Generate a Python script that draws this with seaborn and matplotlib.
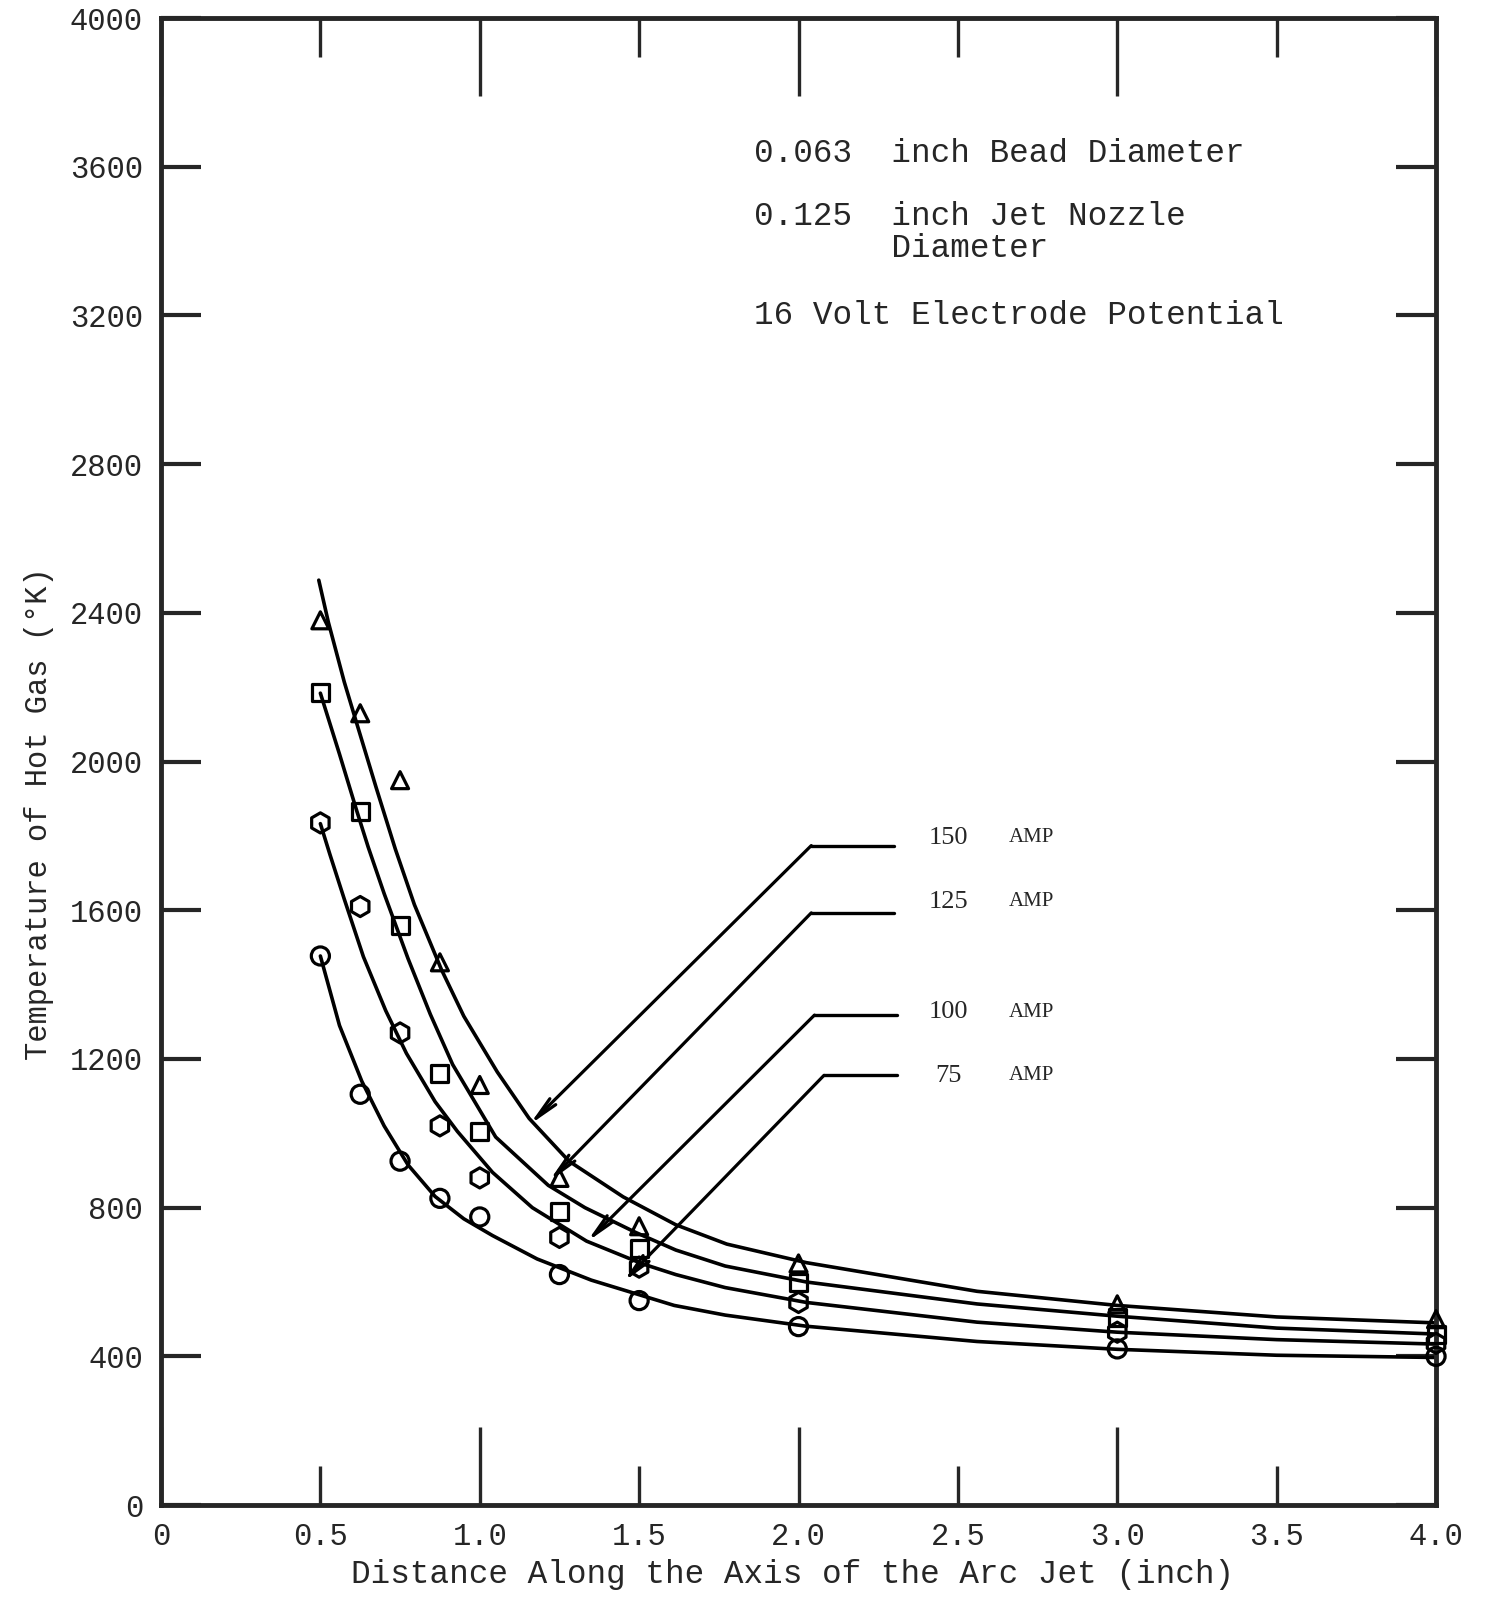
import numpy as np
import pandas as pd
import seaborn as sns
import matplotlib.pyplot as plt
from matplotlib.ticker import MultipleLocator, FuncFormatter

# measured points (distance in inch, temperature in deg K)
dist = [0.5, 0.625, 0.75, 0.875, 1.0, 1.25, 1.5, 2.0, 3.0, 4.0]
temp_150 = [2380, 2130, 1950, 1460, 1130, 880, 750, 650, 540, 500]
temp_125 = [2185, 1865, 1560, 1160, 1005, 790, 690, 600, 505, 460]
temp_100 = [1835, 1610, 1270, 1020, 880, 720, 640, 545, 465, 435]
temp_75 = [1477, 1105, 925, 825, 775, 620, 550, 480, 420, 400]

# hand drawn fit curves
fit_x_150 = [0.495, 0.525, 0.575, 0.615, 0.675, 0.735, 0.795, 0.88, 0.95, 1.055, 1.155,
             1.28, 1.45, 1.615, 1.775, 2.025, 2.56, 3.0, 3.5, 4.0]
fit_y_150 = [2488, 2375, 2214, 2100, 1930, 1765, 1615, 1440, 1315, 1165, 1040,
             925, 829, 754, 702, 652, 575, 537, 506, 490]
fit_x_125 = [0.50, 0.56, 0.615, 0.65, 0.70, 0.775, 0.845, 0.915, 1.05, 1.215, 1.33,
             1.49, 1.615, 1.77, 2.025, 2.56, 3.0, 3.5, 4.0]
fit_y_125 = [2184, 2020, 1865, 1770, 1645, 1470, 1320, 1185, 990, 860, 800,
             733, 686, 643, 600, 541, 508, 476, 460]
fit_x_100 = [0.50, 0.53, 0.575, 0.635, 0.705, 0.77, 0.86, 0.93, 1.04, 1.165, 1.335,
             1.51, 1.615, 1.77, 2.025, 2.56, 3.0, 3.5, 4.0]
fit_y_100 = [1833, 1750, 1630, 1475, 1330, 1215, 1085, 1005, 895, 800, 710,
             649, 620, 585, 545, 492, 465, 445, 433]
fit_x_75 = [0.50, 0.56, 0.63, 0.70, 0.775, 0.86, 0.95, 1.04, 1.18, 1.35, 1.61,
            1.77, 2.025, 2.56, 3.0, 3.5, 4.0]
fit_y_75 = [1477, 1290, 1140, 1020, 915, 830, 770, 725, 662, 605, 537,
            511, 481, 440, 419, 403, 397]

amp_labels = ['150', '125', '100', '75']
markers = ['^', 's', 'h', 'o']
marker_sizes = [150, 150, 210, 170]
arrow_tip_x = [1.156, 1.217, 1.336, 1.45]
arrow_tip_y = [1023, 870, 708, 600]
knee_x = [2.04, 2.04, 2.05, 2.08]
knee_y = [1774, 1593, 1318, 1156]
lead_end_x = [2.30, 2.30, 2.31, 2.31]
label_y = [1795, 1623, 1325, 1155]

notes = ['0.063  inch Bead Diameter', '0.125  inch Jet Nozzle', '       Diameter',
         '16 Volt Electrode Potential']
notes_y = [3636, 3466, 3381, 3200]

y_ticks = list(range(0, 4001, 400))

sns.set_style('ticks')
plt.rcParams['font.family'] = ['Liberation Mono', 'DejaVu Sans Mono']

pts = pd.DataFrame({'dist': dist * 4,
                    'temp': temp_150 + temp_125 + temp_100 + temp_75,
                    'amp': sum([[a] * len(dist) for a in amp_labels], [])})
fits = {'150': (fit_x_150, fit_y_150), '125': (fit_x_125, fit_y_125),
        '100': (fit_x_100, fit_y_100), '75': (fit_x_75, fit_y_75)}

fig = plt.figure(figsize=(14.99, 16.14), dpi=100)
ax = fig.add_axes([0.1074, 0.0675, 0.958 - 0.1074, 0.9888 - 0.0675])

for amp, mk, ms in zip(amp_labels, markers, marker_sizes):
    fx, fy = fits[amp]
    sns.lineplot(x=fx, y=fy, ax=ax, color='black', lw=2.6, sort=False, estimator=None)
    sub = pts[pts['amp'] == amp]
    sns.scatterplot(data=sub, x='dist', y='temp', ax=ax, marker=mk, s=ms,
                    facecolor='none', edgecolor='black', linewidth=2.3,
                    clip_on=False, zorder=5, legend=False)

for i, amp in enumerate(amp_labels):
    ax.annotate('', xy=(arrow_tip_x[i], arrow_tip_y[i]), xytext=(knee_x[i], knee_y[i]),
                arrowprops=dict(arrowstyle='->,head_length=1.7,head_width=0.3',
                                color='black', lw=2.3, shrinkA=0, shrinkB=0))
    ax.plot([knee_x[i], lead_end_x[i]], [knee_y[i], knee_y[i]], color='black', lw=2.4)
    ax.text(2.47, label_y[i], amp, family='Liberation Serif', fontsize=19,
            ha='center', va='center')
    ax.text(2.73, label_y[i], 'AMP', family='Liberation Serif', fontsize=15,
            ha='center', va='center')

for txt, ty in zip(notes, notes_y):
    ax.text(1.86, ty, txt, fontsize=23.5, ha='left', va='center')

ax.set_xlim(0, 4)
ax.set_ylim(0, 4000)
ax.xaxis.set_major_locator(MultipleLocator(1))
ax.xaxis.set_minor_locator(MultipleLocator(0.5))
ax.xaxis.set_major_formatter(FuncFormatter(lambda v, p: '0' if v == 0 else '{:.1f}'.format(v)))
ax.xaxis.set_minor_formatter(FuncFormatter(lambda v, p: '{:.1f}'.format(v)))
ax.set_yticks(y_ticks)
ax.set_yticklabels([str(v) for v in y_ticks])

ax.tick_params(axis='x', which='major', direction='in', length=56, width=2.4,
               top=True, bottom=True, labelsize=22, pad=12)
ax.tick_params(axis='x', which='minor', direction='in', length=28, width=2.4,
               top=True, bottom=True, labelsize=22, pad=12)
ax.tick_params(axis='y', direction='in', length=29, width=3, left=True, right=True,
               labelsize=22, pad=13)

for sp in ax.spines.values():
    sp.set_visible(True)
    sp.set_linewidth(3.5)

ax.set_xlabel('Distance Along the Axis of the Arc Jet (inch)', fontsize=23.5)
ax.set_ylabel('Temperature of Hot Gas (°K)', fontsize=22)
ax.xaxis.set_label_coords(0.495, -0.036)
ax.yaxis.set_label_coords(-0.084, 0.465)

plt.savefig('out.png', dpi=100)
